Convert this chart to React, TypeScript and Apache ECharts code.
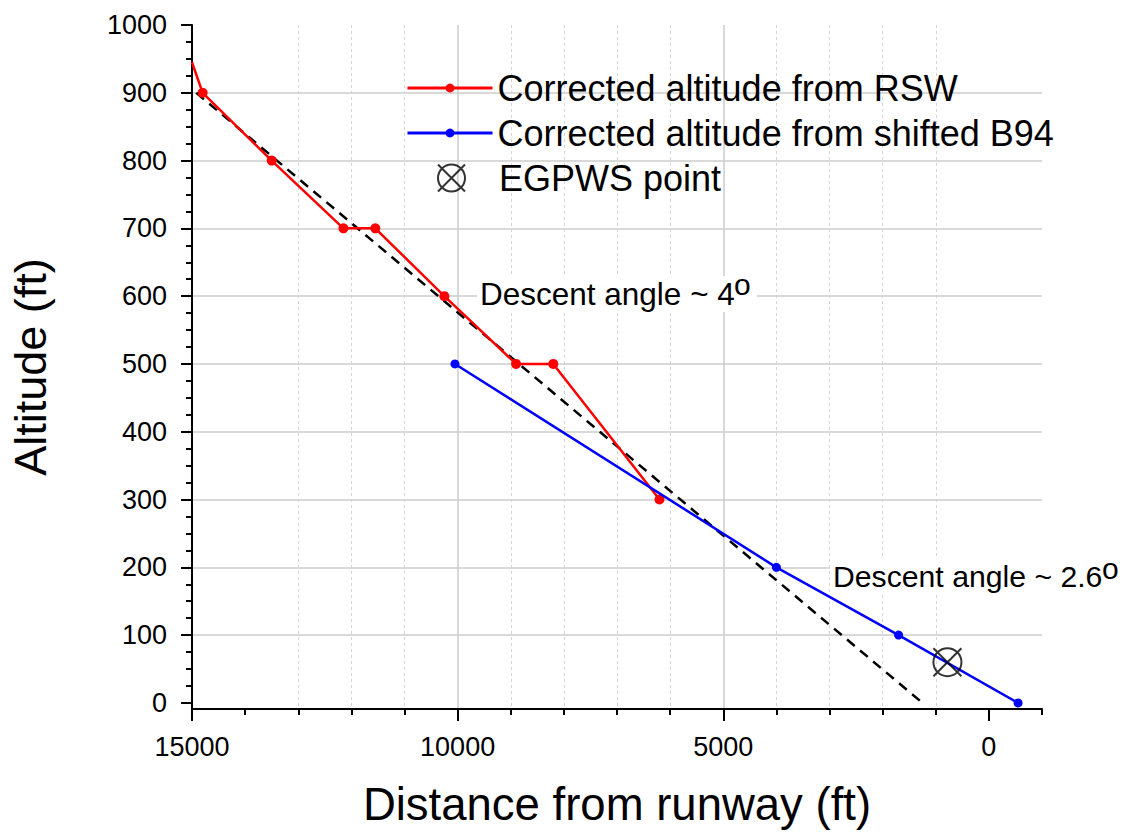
import React, { useEffect, useRef } from 'react';
import * as echarts from 'echarts';

// Distance from runway (ft) / Altitude (ft)
const rswDistance = [15000, 14800, 13500, 12150, 11550, 10250, 8900, 8200, 6200];
const rswAltitude = [945, 900, 800, 700, 700, 600, 500, 500, 300];
const b94Distance = [10050, 4000, 1700, -550];
const b94Altitude = [500, 200, 100, 0];
const glideDistance = [14920, 1250];
const glideAltitude = [900, 0];
const egpwsDistance = [780];
const egpwsAltitude = [60];

const xMajorTicks = [0, 5000, 10000, 15000];
const xMinorTicks = [-1000, 1000, 2000, 3000, 4000, 6000, 7000, 8000, 9000, 11000, 12000, 13000, 14000];
const yMajorTicks = [0, 100, 200, 300, 400, 500, 600, 700, 800, 900, 1000];
const yMinorTicks = [25, 50, 75, 125, 150, 175, 225, 250, 275, 325, 350, 375, 425, 450, 475, 525, 550, 575, 625, 650, 675, 725, 750, 775, 825, 850, 875, 925, 950, 975];

const SERIES_RSW = 'Corrected altitude from RSW';
const SERIES_B94 = 'Corrected altitude from shifted B94';
const SERIES_EGPWS = 'EGPWS point';

const FONT = '"Liberation Sans", Arial, sans-serif';
const EGPWS_SYMBOL = 'path://M1,1 L27,27 M27,1 L1,27 M27,14 A13,13 0 1 1 1,14 A13,13 0 1 1 27,14';

export default function App() {
  const ref = useRef<HTMLDivElement>(null);

  useEffect(() => {
    const chart = echarts.init(ref.current as HTMLDivElement, null, { renderer: 'svg' });
    const pair = (xs: number[], ys: number[]) => xs.map((x, i) => [x, ys[i]]);
    const axisLineStyle = { color: '#000', width: 2 };
    const plain = (v: number) => String(v);

    const option: any = {
      animation: false,
      backgroundColor: '#ffffff',
      textStyle: { fontFamily: FONT },
      grid: { left: 190, right: 91, top: 25, bottom: 121 },
      xAxis: [
        {
          type: 'value',
          position: 'bottom',
          inverse: true,
          min: -1000,
          max: 15000,
          name: 'Distance from runway (ft)',
          nameLocation: 'middle',
          nameGap: 72,
          nameTextStyle: { fontSize: 45.5, color: '#000', fontFamily: FONT },
          axisLine: { show: true, onZero: false, lineStyle: axisLineStyle },
          axisTick: { show: true, length: 12, lineStyle: axisLineStyle, customValues: xMajorTicks },
          axisLabel: { show: true, customValues: xMajorTicks, formatter: plain, fontSize: 27, color: '#000', margin: 24, fontFamily: FONT },
          splitLine: { show: true, showMinLine: false, showMaxLine: false, lineStyle: { color: '#cccccc', width: 1.5 } },
        },
        {
          type: 'value',
          position: 'bottom',
          inverse: true,
          min: -1000,
          max: 15000,
          axisLine: { show: false, onZero: false },
          axisTick: { show: true, length: 6, lineStyle: axisLineStyle, customValues: xMinorTicks },
          axisLabel: { show: false },
          splitLine: { show: true, showMinLine: false, showMaxLine: false, lineStyle: { color: '#d4d4d4', width: 1, type: [3, 3] } },
        },
      ],
      yAxis: [
        {
          type: 'value',
          position: 'left',
          min: -9,
          max: 1000,
          name: 'Altitude (ft)',
          nameLocation: 'middle',
          nameGap: 139,
          nameRotate: 90,
          nameTextStyle: { fontSize: 45, color: '#000', fontFamily: FONT },
          axisLine: { show: true, onZero: false, lineStyle: axisLineStyle },
          axisTick: { show: true, length: 11, lineStyle: axisLineStyle, customValues: yMajorTicks },
          axisLabel: { show: true, customValues: yMajorTicks, formatter: plain, fontSize: 27, color: '#000', margin: 25, fontFamily: FONT },
          splitLine: { show: true, showMinLine: false, showMaxLine: false, lineStyle: { color: '#cccccc', width: 1.5 } },
        },
        {
          type: 'value',
          position: 'left',
          min: -9,
          max: 1000,
          axisLine: { show: false, onZero: false },
          axisTick: { show: true, length: 6, lineStyle: axisLineStyle, customValues: yMinorTicks },
          axisLabel: { show: false },
          splitLine: { show: false },
        },
      ],
      legend: [
        {
          orient: 'vertical',
          left: 401,
          top: 63,
          itemWidth: 85,
          itemHeight: 11,
          itemGap: 5,
          selectedMode: false,
          data: [SERIES_RSW, SERIES_B94],
          lineStyle: { width: 3 },
          textStyle: { fontSize: 36, lineHeight: 40, color: '#000', fontFamily: FONT },
        },
        {
          orient: 'vertical',
          left: 432,
          top: 153,
          itemWidth: 27,
          itemHeight: 27,
          selectedMode: false,
          data: [SERIES_EGPWS],
          itemStyle: { color: 'rgba(0,0,0,0)', borderColor: '#000', borderWidth: 2 },
          textStyle: { fontSize: 36, lineHeight: 40, color: '#000', fontFamily: FONT, padding: [0, 0, 0, 29] },
        },
      ],
      graphic: [
        { type: 'text', x: 477, y: 294, z: 10, style: { text: 'Descent angle ~ 4', fontSize: 31.5, fontFamily: FONT, fill: '#000', align: 'left', verticalAlign: 'middle', backgroundColor: '#fff', padding: [2, 22, 2, 3] } },
        { type: 'text', x: 734, y: 284, z: 11, style: { text: 'o', fontSize: 30, fontFamily: FONT, fill: '#000', align: 'left', verticalAlign: 'middle' } },
        { type: 'text', x: 830, y: 576, z: 10, style: { text: 'Descent angle ~ 2.6', fontSize: 30.2, fontFamily: FONT, fill: '#000', align: 'left', verticalAlign: 'middle', backgroundColor: '#fff', padding: [2, 22, 2, 3] } },
        { type: 'text', x: 1102, y: 568.5, z: 11, style: { text: 'o', fontSize: 30, fontFamily: FONT, fill: '#000', align: 'left', verticalAlign: 'middle' } },
      ],
      series: [
        {
          type: 'line',
          name: 'glide slope',
          data: pair(glideDistance, glideAltitude),
          symbol: 'none',
          silent: true,
          lineStyle: { color: '#000', width: 2.5, type: [10, 7] },
          z: 2,
        },
        {
          type: 'line',
          name: SERIES_RSW,
          data: rswDistance.map((x, i) => (i === 0 ? { value: [x, rswAltitude[i]], symbol: 'none' } : [x, rswAltitude[i]])),
          symbol: 'circle',
          symbolSize: 10,
          showAllSymbol: true,
          itemStyle: { color: '#ff0000' },
          lineStyle: { color: '#ff0000', width: 2.5 },
          z: 3,
        },
        {
          type: 'line',
          name: SERIES_B94,
          data: pair(b94Distance, b94Altitude),
          symbol: 'circle',
          symbolSize: 9,
          showAllSymbol: true,
          itemStyle: { color: '#0000ff' },
          lineStyle: { color: '#0000ff', width: 2.5 },
          z: 4,
        },
        {
          type: 'scatter',
          name: SERIES_EGPWS,
          data: pair(egpwsDistance, egpwsAltitude),
          symbol: EGPWS_SYMBOL,
          symbolSize: 28,
          itemStyle: { color: 'rgba(0,0,0,0)', borderColor: '#000', borderWidth: 2 },
          z: 5,
        },
      ],
    };

    chart.setOption(option);
    return () => chart.dispose();
  }, []);

  return <div ref={ref} style={{ position: 'absolute', left: 0, top: 0, width: 1133, height: 832 }} />;
}
